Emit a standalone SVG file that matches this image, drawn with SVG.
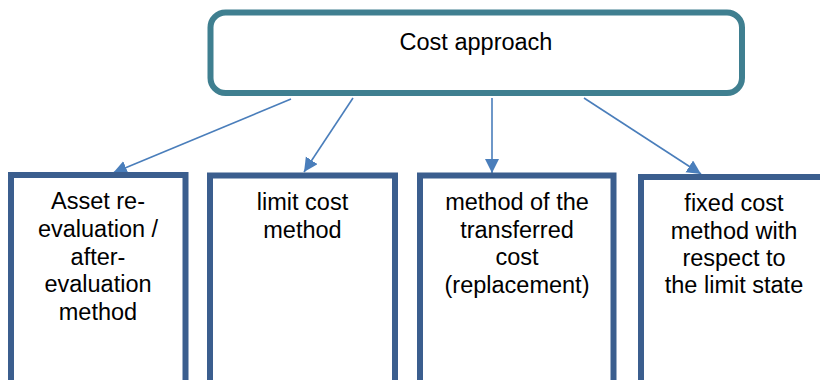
<svg xmlns="http://www.w3.org/2000/svg" width="820" height="380" viewBox="0 0 820 380">
<style>
.top{fill:#fff;stroke:#3f7f90;stroke-width:6}
.box{fill:#fff;stroke:#3b5e8e;stroke-width:6}
.conn{stroke:#4a7ebb;stroke-width:1.6;fill:none}
text{font-family:"Liberation Sans",Arial,sans-serif;font-size:23.5px;fill:#000;text-anchor:middle}
</style>
<defs>
<marker id="ah" markerUnits="userSpaceOnUse" markerWidth="15" markerHeight="15" refX="14" refY="7" orient="auto">
<path d="M0,0 L14,7 L0,14 z" fill="#4a7ebb"/>
</marker>
</defs>
<rect width="820" height="380" fill="#fff"/>
<g id="connectors">
<line class="conn" x1="291" y1="99" x2="113" y2="173" marker-end="url(#ah)"/>
<line class="conn" x1="353" y1="98" x2="304" y2="172" marker-end="url(#ah)"/>
<line class="conn" x1="492" y1="98" x2="492" y2="173" marker-end="url(#ah)"/>
<line class="conn" x1="584" y1="98" x2="701" y2="174" marker-end="url(#ah)"/>
</g>
<g id="cost-approach">
<rect class="top" x="210.5" y="12.5" width="531.5" height="80.5" rx="15"/>
<text x="476" y="50">Cost approach</text>
</g>
<g id="asset-reevaluation">
<rect class="box" x="11" y="175" width="174.5" height="220"/>
<text x="98" y="209">Asset re-</text>
<text x="98" y="237">evaluation /</text>
<text x="98" y="264.5">after-</text>
<text x="98" y="292">evaluation</text>
<text x="98" y="319.5">method</text>
</g>
<g id="limit-cost">
<rect class="box" x="210" y="175.5" width="185" height="220"/>
<text x="302.5" y="210">limit cost</text>
<text x="302.5" y="237.5">method</text>
</g>
<g id="transferred-cost">
<rect class="box" x="420" y="175.5" width="193.5" height="220"/>
<text x="517" y="210">method of the</text>
<text x="517" y="237.5">transferred</text>
<text x="517" y="265">cost</text>
<text x="517" y="292.5">(replacement)</text>
</g>
<g id="fixed-cost">
<rect class="box" x="641" y="177" width="186" height="220"/>
<text x="734" y="211">fixed cost</text>
<text x="734" y="238.5">method with</text>
<text x="734" y="265.5">respect to</text>
<text x="734" y="293">the limit state</text>
</g>
</svg>
